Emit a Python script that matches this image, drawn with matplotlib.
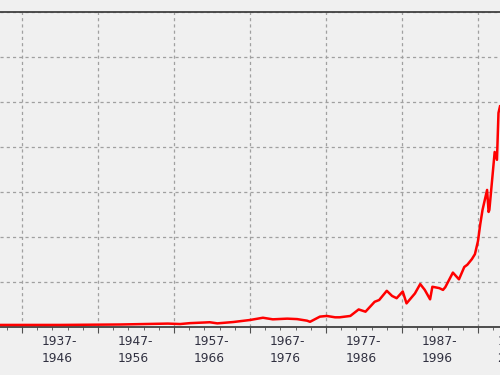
import numpy as np
import matplotlib
matplotlib.use("Agg")
import matplotlib.pyplot as plt
from matplotlib.ticker import MultipleLocator

# values (index level, arbitrary units)
years = [1934.1, 1942.0, 1949.9, 1956.2, 1957.8, 1959.1, 1961.1, 1961.7, 1962.7,
         1964.8, 1967.0, 1968.7, 1970.0, 1971.9, 1973.2, 1974.5, 1974.9, 1976.2,
         1977.1, 1978.2, 1978.8, 1980.2, 1981.3, 1982.2, 1983.4, 1984.0, 1985.0,
         1985.7, 1986.3, 1987.1, 1987.6, 1988.7, 1989.4, 1990.0, 1990.7, 1991.0,
         1991.9, 1992.4, 1992.7, 1993.7, 1994.5, 1995.2, 1995.6, 1996.2, 1996.6,
         1997.0, 1997.3, 1997.6, 1998.2, 1998.4, 1998.5, 1998.9, 1999.2, 1999.5,
         1999.7, 1999.9]
values = [7, 7, 9, 13, 11, 15, 18, 19, 14,
          20, 29, 39, 32, 35, 33, 26, 21, 44,
          47, 41, 41, 47, 76, 66, 110, 118, 159,
          136, 126, 156, 103, 147, 189, 163, 121, 177,
          171, 163, 175, 240, 210, 265, 275, 300, 322,
          380, 455, 519, 608, 510, 519, 666, 777, 742,
          951, 980]

decades = list(range(1927, 2001, 10))

fig = plt.figure(figsize=(5, 3.75), dpi=100)
fig.patch.set_facecolor("#f0f0f0")
ax = fig.add_axes([0.0, 0.1293, 1.0, 0.8387])
ax.set_facecolor("#f0f0f0")

ax.plot(years, values, color="#ff0000", lw=1.8, zorder=3)

ax.set_xlim(1934.1, 1999.9)
ax.set_ylim(0, 1400)
ax.xaxis.set_major_locator(MultipleLocator(10, offset=7))
ax.xaxis.set_minor_locator(MultipleLocator(2, offset=1))
ax.yaxis.set_major_locator(MultipleLocator(200))
ax.grid(True, which="major", color="#a0a0a0", linestyle=(0, (2.5, 2.5)), lw=0.9)

ax.tick_params(axis="x", which="major", length=4, color="#505050", labelbottom=False)
ax.tick_params(axis="x", which="minor", length=2.5, color="#505050")
ax.tick_params(axis="y", left=False, labelleft=False)

for s in ["left", "right"]:
    ax.spines[s].set_visible(False)
for s in ["top", "bottom"]:
    ax.spines[s].set_color("#404040")
    ax.spines[s].set_linewidth(1.3)

for d in decades:
    ax.text(d + 4.9, -0.026, f"{d}-\n{d + 9}", transform=ax.get_xaxis_transform(),
            ha="center", va="top", multialignment="left", fontsize=8.8,
            color="#303040", linespacing=1.45, family="DejaVu Sans")

fig.savefig("out.png", dpi=100, facecolor=fig.get_facecolor())
